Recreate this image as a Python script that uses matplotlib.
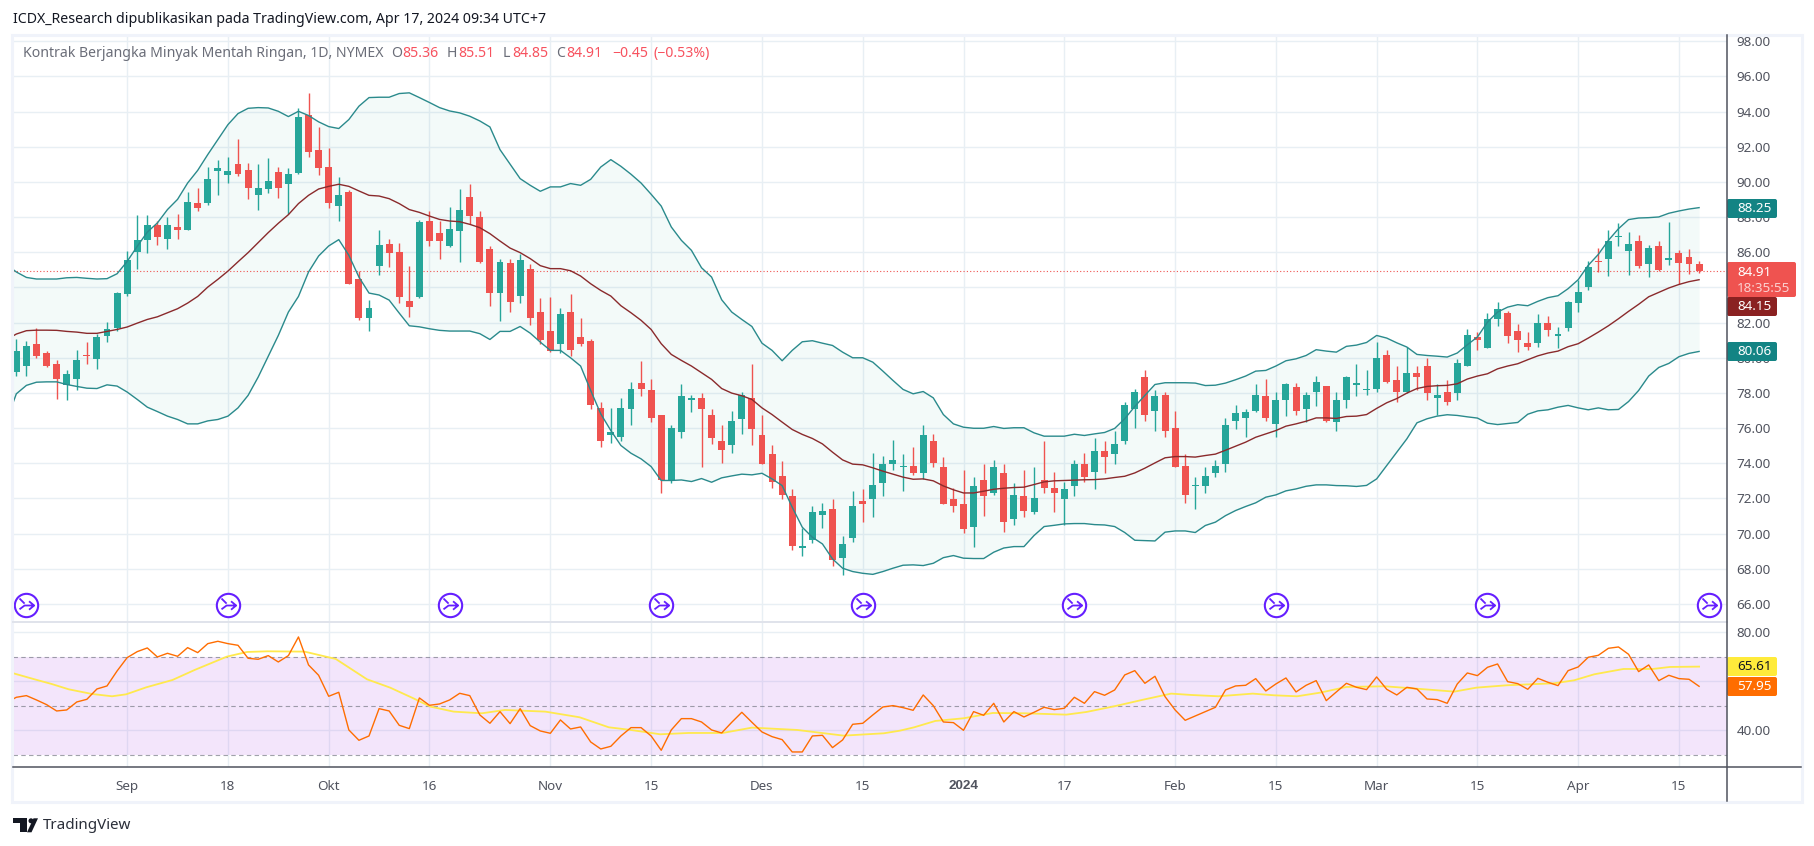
import numpy as np
import matplotlib
matplotlib.use('Agg')
import matplotlib.pyplot as plt
from matplotlib.lines import Line2D
from matplotlib.patches import FancyBboxPatch, Rectangle, Polygon, Circle
from matplotlib.path import Path
from matplotlib.transforms import Affine2D

plt.rcParams['font.family'] = ['Noto Sans', 'DejaVu Sans']

# candles, one per trading day
opens = [79.18, 79.51, 80.76, 80.25, 79.62, 78.44, 78.82, 80.13, 79.91, 81.21, 81.67, 83.61, 86.00, 86.68,
         87.53, 86.74, 87.42, 87.25, 88.79, 88.79, 90.61, 90.38, 91.01, 90.66, 89.24, 89.58, 90.55, 89.87,
         90.49, 93.79, 91.80, 90.83, 88.61, 89.41, 84.46, 82.24, 85.20, 86.45, 86.00, 83.21, 83.43, 87.76,
         87.08, 86.34, 87.19, 89.13, 87.99, 86.17, 83.66, 85.37, 83.49, 85.03, 82.58, 81.50, 80.76, 82.58,
         81.16, 80.93, 77.12, 75.58, 75.52, 77.06, 78.54, 78.14, 76.72, 73.02, 75.75, 77.57, 77.74, 76.77,
         75.29, 75.01, 76.49, 77.74, 75.58, 74.55, 73.30, 72.11, 69.20, 69.66, 71.08, 71.42, 68.63, 69.77,
         71.88, 71.99, 72.85, 73.98, 73.76, 73.87, 73.47, 75.29, 73.76, 71.99, 71.71, 70.40, 73.02, 72.33,
         73.47, 70.85, 72.16, 71.25, 73.02, 72.62, 71.94, 72.68, 73.93, 73.53, 74.67, 74.50, 75.24, 77.06,
         78.88, 76.95, 77.86, 75.98, 73.87, 72.73, 72.68, 73.42, 73.98, 76.38, 76.55, 76.95, 77.80, 76.26,
         77.57, 78.31, 77.06, 78.03, 78.37, 76.32, 77.57, 78.43, 78.14, 78.20, 80.13, 78.71, 78.08, 79.11,
         79.51, 77.74, 78.08, 77.97, 79.56, 81.16, 80.53, 82.18, 82.52, 81.50, 80.82, 80.82, 81.95, 81.21,
         81.67, 83.09, 84.00, 85.48, 85.60, 86.85, 86.05, 86.62, 85.31, 86.34, 85.54, 85.94, 85.71, 85.36]
highs = [81.08, 80.97, 81.71, 80.36, 79.89, 79.28, 80.47, 80.87, 81.37, 82.05, 83.72, 86.05, 88.10, 88.10,
         87.76, 87.99, 88.16, 89.41, 89.64, 90.83, 91.23, 91.40, 92.43, 91.06, 91.01, 91.35, 90.83, 90.78,
         94.19, 95.05, 93.11, 91.92, 90.27, 89.53, 84.91, 83.26, 87.25, 86.74, 86.51, 85.20, 87.82, 88.33,
         87.76, 88.56, 89.58, 89.87, 88.33, 86.34, 85.60, 85.60, 85.88, 85.31, 83.38, 83.43, 82.81, 83.61,
         82.24, 81.04, 77.51, 77.17, 77.74, 78.65, 79.79, 78.77, 76.77, 76.20, 78.48, 77.91, 77.97, 77.06,
         76.20, 77.00, 78.08, 79.62, 76.77, 75.01, 74.10, 72.56, 70.34, 71.59, 71.76, 71.94, 69.89, 72.45,
         72.56, 74.61, 74.44, 75.35, 74.55, 74.95, 76.15, 75.64, 74.38, 72.62, 73.64, 73.19, 73.98, 74.21,
         73.93, 72.90, 73.59, 73.81, 75.24, 73.53, 72.96, 74.16, 74.61, 75.46, 75.24, 75.81, 77.51, 78.25,
         79.28, 78.14, 78.08, 76.95, 74.50, 73.24, 73.81, 74.21, 76.60, 77.29, 77.06, 78.48, 78.77, 78.08,
         78.54, 78.54, 78.08, 78.94, 78.37, 78.03, 78.99, 79.62, 79.28, 80.87, 80.42, 79.51, 80.59, 79.51,
         79.96, 78.48, 78.71, 79.91, 81.61, 81.44, 82.52, 83.15, 82.64, 81.90, 81.44, 82.47, 82.35, 81.73,
         83.21, 84.40, 85.48, 86.22, 87.25, 87.65, 87.13, 86.96, 86.39, 86.62, 87.70, 86.11, 86.17, 85.51]
lows = [78.94, 78.99, 79.98, 79.47, 77.63, 77.57, 78.14, 79.62, 79.34, 80.87, 81.50, 83.49, 85.03, 85.94,
        86.39, 86.17, 86.74, 87.25, 88.33, 88.67, 89.24, 89.92, 90.32, 89.01, 88.39, 89.35, 89.07, 88.16,
        90.44, 91.40, 90.38, 88.50, 87.76, 84.17, 82.13, 81.50, 84.69, 85.14, 83.09, 82.30, 83.38, 86.34,
        85.60, 86.28, 85.43, 87.59, 85.37, 82.92, 82.07, 82.58, 83.09, 81.84, 80.76, 80.30, 80.25, 80.08,
        80.65, 77.06, 74.90, 75.18, 75.29, 76.20, 77.80, 76.32, 72.33, 72.90, 75.41, 76.89, 73.76, 75.07,
        74.04, 74.61, 75.64, 75.01, 73.93, 72.62, 71.99, 69.09, 68.75, 69.49, 70.34, 68.18, 67.67, 69.54,
        70.63, 70.97, 72.11, 73.59, 72.45, 73.36, 73.13, 73.76, 71.71, 71.25, 70.06, 69.26, 71.02, 72.22,
        70.11, 70.46, 70.97, 71.14, 72.33, 71.20, 70.51, 72.11, 72.96, 72.56, 73.42, 73.93, 75.12, 76.03,
        76.38, 75.86, 75.52, 73.76, 71.76, 71.37, 72.33, 73.19, 73.53, 75.92, 75.52, 76.89, 76.38, 75.52,
        76.66, 76.77, 76.32, 77.23, 76.32, 75.81, 77.17, 77.80, 77.91, 78.03, 78.54, 77.51, 77.97, 78.14,
        77.57, 76.77, 77.34, 77.57, 79.56, 80.47, 80.53, 81.78, 80.82, 80.30, 80.42, 80.59, 81.21, 80.53,
        81.50, 82.58, 83.83, 84.86, 84.63, 86.34, 84.69, 85.09, 84.57, 84.91, 85.26, 84.17, 84.74, 84.85]
closes = [80.36, 80.65, 80.08, 79.56, 78.82, 79.05, 79.85, 80.08, 81.16, 81.61, 83.66, 85.54, 86.68, 87.53,
          86.85, 87.53, 87.25, 88.84, 88.50, 90.15, 90.78, 90.61, 90.44, 89.64, 89.64, 90.04, 89.64, 90.44,
          93.68, 91.69, 90.78, 88.79, 89.24, 84.17, 82.24, 82.81, 86.39, 85.94, 83.43, 82.87, 87.70, 86.62,
          86.62, 87.31, 88.39, 88.06, 85.43, 83.66, 85.43, 83.15, 85.54, 82.24, 80.99, 80.36, 82.47, 80.47,
          80.76, 77.29, 75.24, 75.75, 77.17, 78.25, 78.20, 76.60, 73.02, 76.03, 77.80, 77.74, 77.06, 75.46,
          74.78, 76.38, 77.86, 75.92, 73.98, 72.96, 72.22, 69.32, 69.32, 71.20, 71.31, 68.52, 69.43, 71.54,
          71.71, 72.79, 73.93, 74.21, 73.87, 73.47, 75.58, 74.04, 71.71, 71.59, 70.28, 72.68, 72.11, 73.81,
          70.68, 72.22, 71.31, 72.00, 72.62, 72.33, 72.56, 73.93, 73.19, 74.72, 74.33, 75.07, 77.34, 78.03,
          76.72, 77.80, 75.81, 73.76, 72.22, 72.79, 73.30, 73.87, 76.20, 76.83, 76.89, 77.86, 76.55, 77.57,
          78.48, 77.00, 77.91, 78.60, 76.43, 77.57, 78.88, 78.54, 78.25, 79.96, 78.65, 78.08, 79.11, 78.88,
          77.97, 77.91, 77.51, 79.73, 81.27, 80.99, 82.18, 82.75, 81.21, 80.99, 80.59, 81.95, 81.56, 81.33,
          83.15, 83.72, 85.14, 85.43, 86.62, 86.91, 86.45, 85.20, 86.22, 84.97, 85.65, 85.37, 85.31, 84.91]

# bollinger bands, these start one day before the first candle
bb_upper = [85.31, 84.88, 84.57, 84.48, 84.48, 84.48, 84.55, 84.57, 84.52, 84.48, 84.50, 84.78, 85.48, 86.34,
            87.15, 87.67, 88.43, 89.01, 89.94, 90.66, 91.56, 92.41, 93.26, 93.89, 94.19, 94.23, 94.21, 94.02,
            93.72, 94.02, 93.78, 93.42, 93.15, 93.04, 93.55, 94.31, 94.80, 94.82, 94.82, 95.03, 95.07, 94.80,
            94.52, 94.23, 94.04, 93.93, 93.74, 93.47, 93.13, 91.84, 91.01, 90.19, 89.81, 89.47, 89.72, 89.72,
            89.91, 89.81, 90.15, 90.85, 91.27, 90.89, 90.44, 89.94, 89.30, 88.63, 87.44, 86.68, 86.11, 85.12,
            84.59, 83.30, 82.60, 82.18, 81.78, 80.83, 80.42, 79.83, 80.42, 80.91, 80.97, 80.83, 80.70, 80.32,
            80.00, 80.00, 79.75, 79.24, 78.71, 78.20, 77.95, 78.08, 77.72, 76.77, 76.24, 76.05, 75.99, 75.99,
            76.09, 75.98, 76.02, 76.02, 75.73, 75.54, 75.54, 75.54, 75.65, 75.58, 75.67, 75.75, 75.98, 76.53,
            77.23, 77.86, 78.48, 78.58, 78.58, 78.58, 78.56, 78.42, 78.44, 78.56, 78.75, 78.96, 79.24, 79.28,
            79.53, 79.83, 79.94, 80.13, 80.46, 80.38, 80.32, 80.65, 80.72, 80.87, 81.27, 81.12, 80.85, 80.61,
            80.19, 80.13, 80.09, 80.04, 80.27, 80.74, 81.18, 82.03, 82.60, 82.88, 83.02, 82.96, 83.21, 83.42,
            83.53, 83.93, 84.44, 85.26, 85.88, 86.68, 87.34, 87.86, 87.95, 87.97, 88.01, 88.22, 88.35, 88.46,
            88.54]
bb_middle = [81.02, 81.35, 81.54, 81.57, 81.57, 81.56, 81.50, 81.46, 81.39, 81.39, 81.50, 81.61, 81.75, 81.97,
             82.18, 82.33, 82.56, 82.79, 83.11, 83.49, 84.02, 84.46, 84.93, 85.46, 85.98, 86.55, 87.12, 87.65,
             88.14, 88.77, 89.24, 89.60, 89.75, 89.87, 89.75, 89.49, 89.24, 89.20, 89.05, 88.77, 88.43, 88.27,
             88.06, 87.87, 87.78, 87.74, 87.59, 87.40, 87.06, 86.64, 86.24, 85.98, 85.64, 85.24, 85.07, 85.07,
             84.95, 84.65, 84.21, 83.83, 83.51, 82.96, 82.56, 82.13, 81.61, 80.80, 80.19, 79.85, 79.53, 79.15,
             78.77, 78.25, 77.99, 77.84, 77.63, 77.15, 76.77, 76.34, 75.92, 75.64, 75.41, 75.10, 74.63, 74.19,
             73.95, 73.91, 73.74, 73.55, 73.38, 73.21, 73.09, 73.11, 73.00, 72.71, 72.49, 72.31, 72.31, 72.41,
             72.52, 72.58, 72.62, 72.64, 72.79, 72.94, 73.00, 73.02, 73.04, 73.06, 73.07, 73.11, 73.19, 73.26,
             73.45, 73.72, 74.02, 74.31, 74.38, 74.38, 74.35, 74.44, 74.52, 74.74, 74.97, 75.20, 75.48, 75.67,
             75.86, 76.11, 76.24, 76.39, 76.58, 76.58, 76.55, 76.66, 76.68, 76.77, 77.12, 77.44, 77.68, 77.99,
             78.25, 78.37, 78.41, 78.43, 78.52, 78.79, 78.96, 79.09, 79.37, 79.53, 79.66, 79.89, 80.11, 80.27,
             80.38, 80.63, 80.80, 81.12, 81.46, 81.82, 82.22, 82.64, 83.04, 83.47, 83.72, 83.97, 84.17, 84.33,
             84.44]
bb_lower = [76.38, 77.95, 78.43, 78.61, 78.63, 78.63, 78.48, 78.37, 78.27, 78.25, 78.46, 78.39, 78.05, 77.63,
            77.19, 76.94, 76.68, 76.49, 76.24, 76.24, 76.41, 76.49, 76.68, 77.15, 77.86, 78.90, 80.08, 81.27,
            82.60, 83.49, 84.88, 85.79, 86.36, 86.72, 85.83, 84.59, 83.68, 83.57, 83.28, 82.54, 81.82, 81.76,
            81.65, 81.56, 81.52, 81.52, 81.52, 81.37, 81.04, 81.50, 81.50, 81.78, 81.40, 80.89, 80.42, 80.42,
            80.00, 79.53, 78.14, 76.81, 75.86, 75.01, 74.57, 74.25, 73.81, 73.02, 73.02, 73.05, 72.96, 73.13,
            72.92, 73.17, 73.28, 73.38, 73.34, 73.43, 73.11, 72.73, 71.50, 70.36, 69.79, 69.41, 68.56, 68.03,
            67.84, 67.74, 67.68, 67.84, 68.03, 68.20, 68.22, 68.18, 68.31, 68.63, 68.75, 68.60, 68.58, 68.58,
            68.94, 69.18, 69.26, 69.26, 69.89, 70.40, 70.47, 70.55, 70.57, 70.57, 70.51, 70.49, 70.40, 70.06,
            69.62, 69.60, 69.58, 70.08, 70.15, 70.15, 70.06, 70.46, 70.65, 71.02, 71.31, 71.54, 71.75, 72.07,
            72.20, 72.43, 72.54, 72.69, 72.77, 72.77, 72.73, 72.72, 72.68, 72.74, 73.11, 73.87, 74.63, 75.39,
            76.30, 76.53, 76.68, 76.76, 76.72, 76.64, 76.57, 76.28, 76.20, 76.26, 76.32, 76.79, 76.98, 77.04,
            77.19, 77.29, 77.15, 77.04, 77.15, 77.04, 77.06, 77.51, 78.14, 78.96, 79.45, 79.68, 80.06, 80.25,
            80.36]

# rsi, also from the day before the first candle
rsi = [51.29, 53.47, 54.15, 52.38, 50.48, 47.89, 48.30, 51.56, 52.65, 56.87, 58.10, 64.22, 69.66, 72.11, 73.61,
       69.93, 71.43, 70.20, 73.74, 71.70, 75.37, 76.33, 75.37, 74.69, 69.39, 68.98, 70.48, 67.89, 70.48, 78.10,
       66.67, 62.45, 53.88, 55.51, 40.14, 35.92, 37.69, 48.84, 47.89, 42.04, 40.68, 53.20, 50.20, 50.75, 52.38,
       55.10, 54.15, 46.26, 42.86, 47.62, 42.72, 48.84, 41.90, 39.73, 38.78, 44.22, 40.54, 41.36, 35.24, 32.38,
       33.47, 37.69, 41.09, 41.09, 37.69, 31.84, 40.14, 44.76, 44.76, 43.40, 40.14, 38.91, 43.27, 47.35, 43.27,
       39.32, 37.41, 36.19, 31.16, 31.16, 37.69, 37.96, 32.93, 36.05, 42.45, 42.86, 46.26, 49.52, 50.07, 49.25,
       48.16, 54.42, 50.07, 43.40, 43.13, 40.00, 47.62, 46.12, 51.02, 43.40, 47.62, 45.44, 47.35, 49.39, 48.44,
       48.98, 53.47, 51.02, 55.78, 54.29, 56.46, 62.59, 64.35, 59.18, 62.04, 53.74, 48.30, 44.08, 45.85, 47.62,
       49.39, 56.46, 58.10, 58.37, 61.09, 56.05, 58.91, 61.36, 55.65, 58.37, 60.27, 52.11, 55.65, 59.18, 57.55,
       56.60, 61.77, 56.73, 54.42, 57.55, 56.87, 52.79, 52.52, 51.02, 58.91, 63.40, 62.31, 65.71, 67.07, 59.86,
       59.05, 56.73, 61.22, 59.59, 58.23, 64.35, 65.85, 69.80, 70.61, 73.47, 74.01, 71.02, 63.95, 66.67, 60.27,
       62.45, 61.09, 60.82, 57.95]
# rsi moving average, read at the bends of the curve
rsi_ma_day = [-0.3, 1.8, 3.5, 5.2, 7.5, 9.5, 10.9, 12.9, 15.5, 17.7, 20.9, 22.9, 24.9, 28.6, 31.7, 34.8, 37.1,
              39.4, 41.1, 43.4, 46.2, 48.5, 52.5, 55.9, 58.8, 61, 63.9, 66.7, 70.1, 73, 77.5, 82.1, 86.1, 87.7,
              89.1, 91.2, 94, 96.9, 100.1, 104.2, 106.2, 109.1, 112, 114.6, 116.6, 119.3, 122.7, 124.8, 127.1,
              129.4, 132, 135.8, 138.9, 142.7, 144.9, 147.9, 152.6, 154.6, 156.6, 159.5, 162.4, 164.1, 167]
rsi_ma = [63.27, 60.82, 58.91, 56.73, 54.83, 53.88, 54.69, 57.55, 60.54, 64.63, 70.07, 71.97, 72.24, 72.11, 69.12,
          60.82, 57.41, 53.06, 49.66, 47.62, 46.94, 48.30, 47.62, 45.31, 41.22, 40.14, 38.37, 38.91, 38.91, 41.09,
          40.14, 37.82, 38.78, 39.86, 41.22, 43.81, 44.90, 47.07, 46.94, 46.39, 47.48, 49.93, 52.65, 54.97, 54.42,
          53.88, 54.97, 54.29, 53.88, 55.37, 57.69, 57.96, 57.01, 55.78, 57.41, 58.37, 59.18, 60.41, 62.86, 65.03,
          65.03, 65.85, 65.99]

tick_days = [11, 21, 31, 41, 53, 63, 74, 84, 94, 104, 115, 125, 135, 145, 155, 165]
tick_names = ['Sep', '18', 'Okt', '16', 'Nov', '15', 'Des', '15', '2024', '17', 'Feb', '15', 'Mar', '15', 'Apr', '15']
rollover_days = [1, 21, 43, 64, 84, 105, 125, 146, 168]
last_close = 84.91

GREEN, RED = '#26a69a', '#ef5350'
TEAL, MAROON = '#2a8a8c', '#8a2a2c'
GRID = '#e8eff4'
TEXT = '#50535e'
W, H = 1815, 846

fig = plt.figure(figsize=(W / 100, H / 100), dpi=100, facecolor='white')
# layout below is in screen pixels, y going down like in the screenshot
px = Affine2D().scale(1, -1).translate(0, H)
LEFT, RIGHT, TOP, SPLIT, BOTTOM = 13, 1727, 35, 622, 767


def pane(y0, y1):
    a = fig.add_axes([LEFT / W, 1 - y1 / H, (RIGHT - LEFT) / W, (y1 - y0) / H])
    for s in a.spines.values():
        s.set_visible(False)
    a.set_xlim(-0.33, 169.77)
    a.set_xticks(tick_days)
    a.yaxis.tick_right()
    a.set_axisbelow(True)
    a.grid(True, color=GRID, lw=1.0)
    a.tick_params(length=0, labelcolor=TEXT, labelsize=9.7, pad=7)
    return a


def price_tag(y0, y1, x1, colour, text, fg='white', weight='normal'):
    fig.add_artist(FancyBboxPatch((RIGHT, y0), x1 - RIGHT, y1 - y0, boxstyle='round,pad=0,rounding_size=2',
                                  fc=colour, ec='none', transform=px))
    fig.text(RIGHT + 10, (y0 + y1) / 2, text, color=fg, fontsize=9.7, va='center', ha='left',
             transform=px, fontweight=weight)


ax = pane(TOP, SPLIT)
ax.set_ylim(64.97, 98.36)
# the 84 label sits completely behind the last price tag
price_ticks = np.arange(66, 99, 2)
ax.set_yticks(price_ticks, ['' if v == 84 else '%.2f' % v for v in price_ticks])
ax.tick_params(axis='x', labelbottom=False)

days = np.arange(len(opens))
band_days = np.arange(-1, len(opens))
opens_a, closes_a = np.array(opens), np.array(closes)
colours = np.where(closes_a >= opens_a, GREEN, RED)

ax.fill_between(band_days, bb_upper, bb_lower, color=GREEN, alpha=0.055, lw=0, zorder=1)
ax.axhline(last_close, color=RED, lw=0.8, ls=(0, (1, 2)), zorder=2)
ax.vlines(days, lows, highs, colors=colours, lw=1.0, zorder=3)
ax.bar(days, np.abs(closes_a - opens_a), bottom=np.minimum(opens_a, closes_a), width=0.69, color=colours,
       lw=0, zorder=3)
ax.plot(band_days, bb_upper, color=TEAL, lw=1.0, zorder=4)
ax.plot(band_days, bb_lower, color=TEAL, lw=1.0, zorder=4)
ax.plot(band_days, bb_middle, color=MAROON, lw=1.0, zorder=4)

# contract rollover marks
arrow = Path([(-0.55, -0.3), (-0.15, 0), (0.6, 0), (0.2, -0.33), (0.6, 0), (0.2, 0.33), (-0.55, 0.55), (-0.15, 0.15)],
             [Path.MOVETO, Path.LINETO, Path.LINETO, Path.MOVETO, Path.LINETO, Path.LINETO, Path.MOVETO, Path.LINETO])
marks_y = [65.94] * len(rollover_days)
ax.plot(rollover_days, marks_y, 'o', ms=16.8, mfc='white', mec='#651fff', mew=1.5, zorder=5, clip_on=False)
ax.plot(rollover_days, marks_y, ls='none', marker=arrow, ms=11, mfc='none', mec='#651fff', mew=1.3, zorder=6,
        clip_on=False)

ax2 = pane(SPLIT, BOTTOM)
ax2.set_ylim(25.02, 84.2)
ax2.set_yticks([40, 60, 80], ['40.00', '', '80.00'])
ax2.set_xticks(tick_days, tick_names)
ax2.tick_params(axis='x', pad=9)
ax2.get_xticklabels()[8].set_fontfamily('Liberation Sans')
ax2.get_xticklabels()[8].set_fontweight('bold')
ax2.axhspan(30, 70, color='#a32fe6', alpha=0.12, lw=0, zorder=1)
for level in (30, 50, 70):
    ax2.axhline(level, color='#787b86', lw=0.8, alpha=0.7, ls=(0, (4, 3)), zorder=2)
ax2.plot(rsi_ma_day, rsi_ma, color='#ffe94d', lw=1.3, zorder=3)
ax2.plot(band_days, rsi, color='#ff6d00', lw=1.0, zorder=4)

# frame, pane borders and the right hand scale
fig.add_artist(Rectangle((12, 34.5), 1790, 767, fc='none', ec='#f0f3fa', lw=2.2, transform=px))
fig.add_artist(Line2D([LEFT, RIGHT], [SPLIT, SPLIT], color='#e0e3eb', lw=1.4, transform=px))
fig.add_artist(Line2D([LEFT, 1801], [BOTTOM, BOTTOM], color=TEXT, lw=1.1, transform=px))
fig.add_artist(Line2D([RIGHT, RIGHT], [TOP, 801], color=TEXT, lw=1.1, transform=px))

price_tag(199, 218, 1777, '#138484', '88.25')
price_tag(262, 297, 1796, RED, '')
fig.text(RIGHT + 10, 272, '84.91', color='white', fontsize=9.7, va='center', transform=px)
fig.text(RIGHT + 10, 288, '18:35:55', color='#fbd0cf', fontsize=9.7, va='center', transform=px)
price_tag(297, 316, 1777, '#8a2121', '84.15')
price_tag(342, 361, 1777, '#138484', '80.06')
price_tag(657, 676, 1777, '#ffeb3b', '65.61', fg='#131722')
price_tag(677, 696, 1777, '#ff6d00', '57.95')

# headline and legend
fig.text(13, 19.5, 'ICDX_Research dipublikasikan pada TradingView.com, Apr 17, 2024 09:34 UTC+7', color='#131722',
         fontsize=10.2, va='center', transform=px)
fig.text(23, 53, 'Kontrak Berjangka Minyak Mentah Ringan, 1D, NYMEX', color='#6a6d78', fontsize=10.15, va='center',
         transform=px)
legend_x = [391, 402, 447, 458, 503, 512, 556, 566, 612, 654]
legend_t = ['O', '85.36', 'H', '85.51', 'L', '84.85', 'C', '84.91', '\u22120.45', '(\u22120.53%)']
for lx, lt in zip(legend_x, legend_t):
    c = '#6a6d78' if lt in 'OHLC' else '#f7525f'
    fig.text(lx, 53, lt, color=c, fontsize=10.15, va='center', transform=px)

# tradingview logo
fig.add_artist(Polygon([(13.3, 818.3), (26.7, 818.3), (26.7, 832.3), (20, 832.3), (20, 823.3), (13.3, 823.3)],
                       fc='#131722', ec='none', transform=px))
fig.add_artist(Circle((31, 820.8), 2.5, fc='#131722', ec='none', transform=px))
fig.add_artist(Polygon([(33.5, 818.3), (38, 818.3), (31.5, 832.3), (27, 832.3)], fc='#131722', ec='none',
                       transform=px))
fig.text(43, 825, 'TradingView', color='#2a2e39', fontsize=10.9, va='center', transform=px)

fig.savefig('out.png', dpi=100, facecolor='white')
